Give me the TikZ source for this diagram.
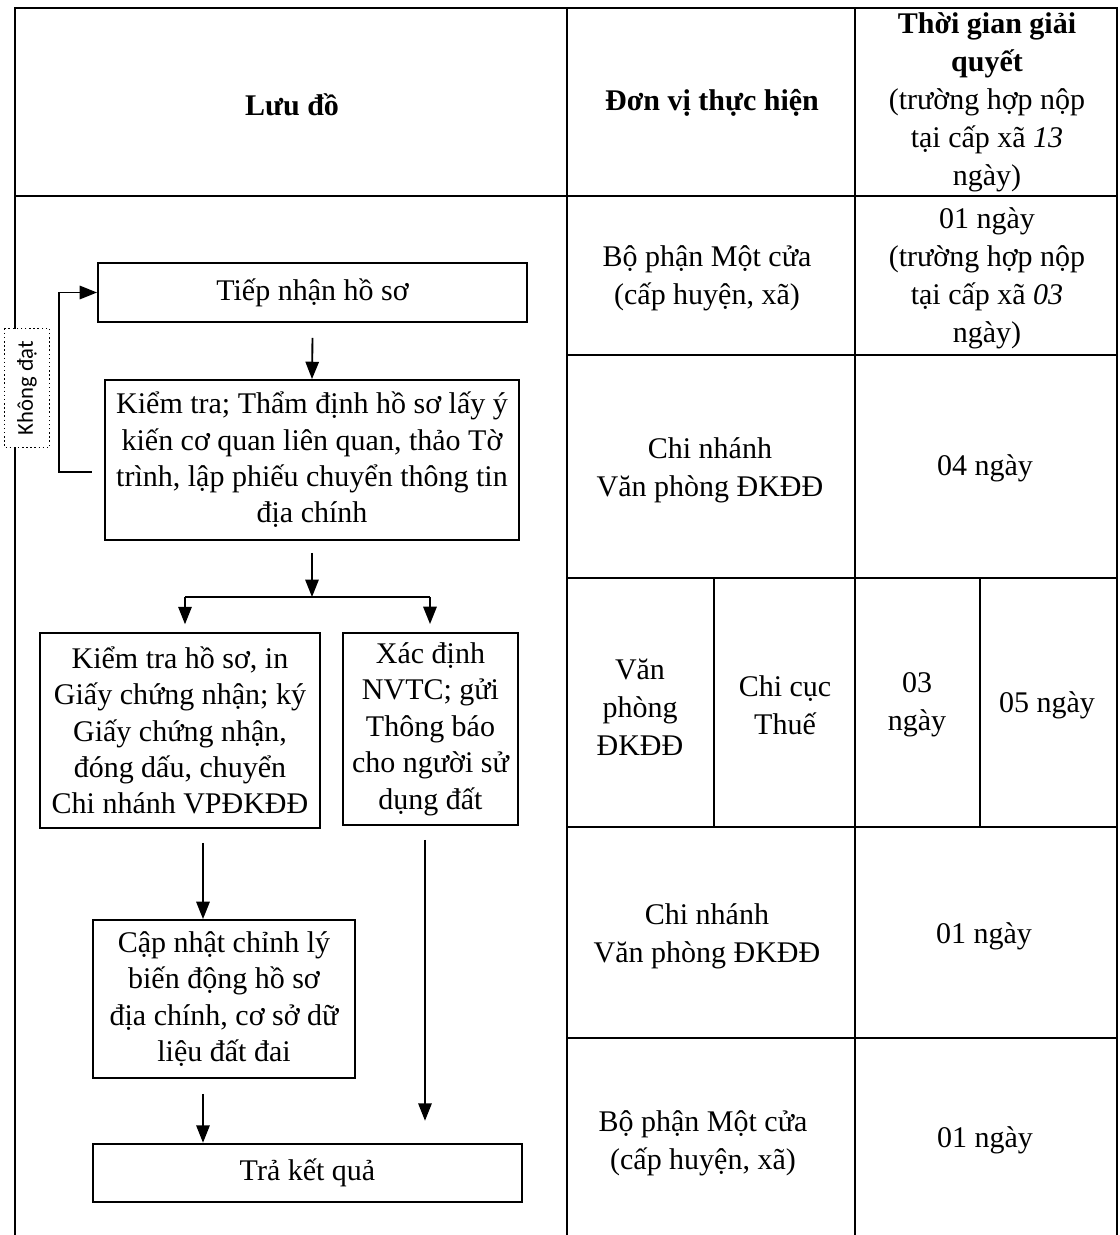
\documentclass[tikz,border=0pt]{standalone}
\usepackage{fontspec}
\setmainfont{Liberation Serif}
\newfontfamily\lblfont{Carlito}
\usetikzlibrary{arrows.meta,calc}
\newcommand\mytxt{\fontsize{22.5pt}{28.5pt}\selectfont}
\newcommand\boxtxt{\fontsize{22.5pt}{27.3pt}\selectfont}
\begin{document}
\begin{tikzpicture}[x=0.75pt,y=-0.75pt,
  grid/.style={line width=1.4pt},
  box/.style={draw, line width=1.4pt, align=center, inner sep=0pt, font=\boxtxt},
  cell/.style={align=center, inner sep=0pt, font=\mytxt},
  arr/.style={line width=1.4pt, -{Triangle[length=13pt,width=10pt]}},
  plain/.style={line width=1.4pt},
  lbl/.style={draw, dotted, line width=1.1pt, fill=white, rotate=90, inner sep=0pt,
    minimum width=89pt, minimum height=34pt, font=\lblfont\fontsize{17pt}{19pt}\selectfont}]
\useasboundingbox (0,0) rectangle (1120,1235);
\fill[white] (0,0) rectangle (1120,1235);

% ---------- table grid ----------
\draw[grid] (15,1235) -- (15,8) -- (1117,8) -- (1117,1235);
\draw[grid] (15,196) -- (1117,196);
\draw[grid] (567,8) -- (567,1235);
\draw[grid] (855,8) -- (855,1235);
\foreach \yy in {355,578,827,1038} \draw[grid] (567,\yy) -- (1117,\yy);
\draw[grid] (714,578) -- (714,827);
\draw[grid] (980,578) -- (980,827);

% ---------- header ----------
\node[cell, font=\mytxt\bfseries] (h1) at (292,105) {Lưu đồ};
\node[cell, font=\mytxt\bfseries] (h2) at (712,103) {Đơn vị thực hiện};
\node[cell] (h3) at (987,102) {\textbf{Thời gian giải}\\\textbf{quyết}\\(trường hợp nộp\\tại cấp xã \textit{13}\\ngày)};

% ---------- right columns ----------
\node[cell] (u1) at (707,278) {Bộ phận Một cửa\\(cấp huyện, xã)};
\node[cell] (d1) at (987,278) {01 ngày\\(trường hợp nộp\\tại cấp xã \textit{03}\\ngày)};
\node[cell] (u2) at (710,470) {Chi nhánh\\Văn phòng ĐKĐĐ};
\node[cell] (d2) at (985,468) {04 ngày};
\node[cell] (u3a) at (640,707) {Văn\\phòng\\ĐKĐĐ};
\node[cell] (u3b) at (785,705) {Chi cục\\Thuế};
\node[cell] (d3a) at (917,705) {03\\ngày};
\node[cell] (d3b) at (1047,705) {05 ngày};
\node[cell] (u4) at (707,936) {Chi nhánh\\Văn phòng ĐKĐĐ};
\node[cell] (d4) at (984,936) {01 ngày};
\node[cell] (u5) at (703,1143) {Bộ phận Một cửa\\(cấp huyện, xã)};
\node[cell] (d5) at (985,1140) {01 ngày};

% ---------- flowchart ----------
\node[box, minimum width=321.75pt, minimum height=44.25pt] (t1) at (312.5,292.5) {Tiếp nhận hồ sơ};
\node[box, minimum width=311pt, minimum height=120pt] (t2) at (312,460)
  {Kiểm tra; Thẩm định hồ sơ lấy ý\\kiến cơ quan liên quan, thảo Tờ\\trình, lập phiếu chuyển thông tin\\địa chính};
\node[box, minimum width=210pt, minimum height=146pt] (t3) at (180,730.5)
  {Kiểm tra hồ sơ, in\\Giấy chứng nhận; ký\\Giấy chứng nhận,\\đóng dấu, chuyển\\Chi nhánh VPĐKĐĐ};
\node[box, minimum width=131.25pt, minimum height=144pt] (t4) at (430.5,729)
  {Xác định\\NVTC; gửi\\Thông báo\\cho người sử\\dụng đất};
\node[box, minimum width=196.5pt, minimum height=118.5pt] (t5) at (224,999)
  {Cập nhật chỉnh lý\\biến động hồ sơ\\địa chính, cơ sở dữ\\liệu đất đai};
\node[box, minimum width=321.75pt, minimum height=44pt] (t6) at (307.5,1173) {Trả kết quả};

\coordinate (split) at (312,597);
\coordinate (sl) at (185,597);
\coordinate (sr) at (430,597);

\draw[arr] ($(t1.south)+(0,15)$) -- (t2.north);
\draw[arr] ($(t2.south)+(0,12)$) -- (split);
\draw[plain] (sl) -- (sr);
\draw[arr] (sl) -- ($(t3.north)+(5,-8)$);
\draw[arr] (sr) -- ($(t4.north)+(-0.5,-8)$);
\draw[arr] ($(t3.south)+(23,14)$) -- ($(t5.north)+(-21,0)$);
\draw[arr] ($(t4.south)+(-5.5,14)$) -- ($(t6.north)+(117.5,-22)$);
\draw[arr] ($(t5.south)+(-21,15)$) -- ($(t6.north)+(-104.5,0)$);

% feedback loop
\draw[arr] ($(t2.west)+(-12,12)$) -- ++(-33,0) |- (t1.west);
\node[lbl] (kd) at (27,388) {Không đạt};
\end{tikzpicture}
\end{document}
